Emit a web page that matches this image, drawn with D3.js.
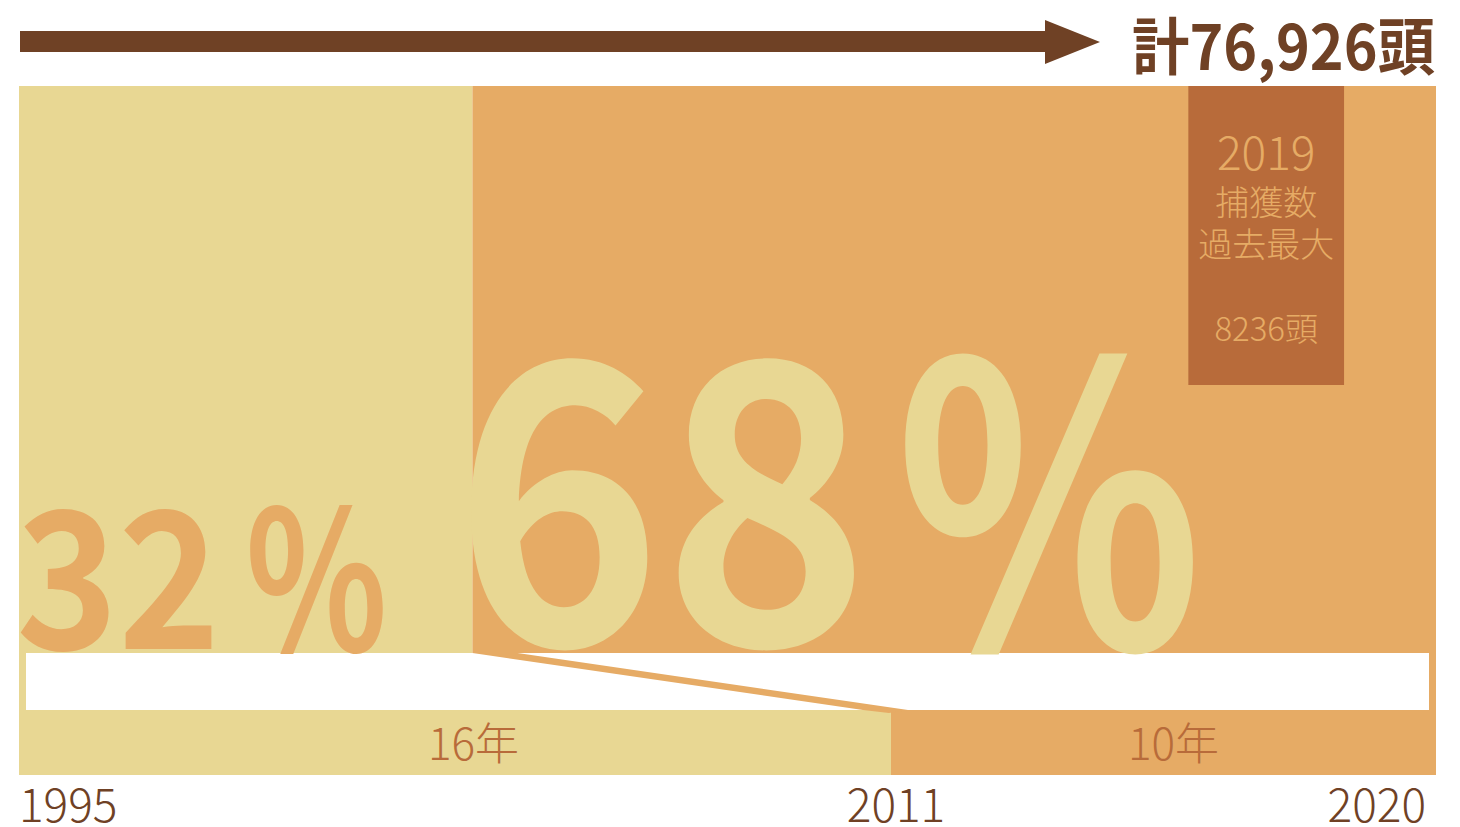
<!DOCTYPE html>
<html>
<head>
<meta charset="utf-8">
<script src="https://cdn.jsdelivr.net/npm/d3@7"></script>
<style>
  html, body { margin: 0; padding: 0; background: #ffffff; }
  svg { display: block; }
  text { font-family: "Noto Sans CJK JP", "Noto Sans", sans-serif; }
</style>
</head>
<body>
<svg id="chart" width="1460" height="827"></svg>
<script>
// ---- data ----
const totalCatch = 76926;                 // 1995–2020 total (頭)
const shareNumbers = ["32", "68"];
const shareValues = [32, 68];             // % of total before / after 2011
const periodLabels = ["16年", "10年"];
const periodStarts = [1995, 2011];
const periodEnds = [2011, 2021];
const tickYears = [1995, 2011, 2020];
const peakYear = 2019;
const peakCatch = 8236;
const catch2020 = 5100;                   // estimated
const peakLines = ["2019", "捕獲数", "過去最大", "", "8236頭"];

// ---- colours ----
const cYellow = "#E8D793";
const cOrange = "#E6AB65";
const cBox = "#B86B3A";
const cDark = "#6F4125";

const FONT = '"Noto Sans CJK JP", "Noto Sans", sans-serif';
const svg = d3.select("#chart");
const left = 19, right = 1436;
const panelTop = 86, panelBottom = 653, bandTop = 710, bandBottom = 775;
const inset = 7;

const xShare = d3.scaleLinear().domain([0, 100]).range([left, right]);
const xYear = d3.scaleLinear().domain([periodStarts[0], periodEnds[1]]).range([left, right]);

// helper: place text so its ink spans [inkLeft, inkRight] horizontally
const ctx = document.createElement("canvas").getContext("2d");
function fitText(str, size, weight, inkLeft, inkRight, baseline, fill) {
  ctx.font = `${weight} ${size}px ${FONT}`;
  const m = ctx.measureText(str);
  const l = -m.actualBoundingBoxLeft, r = m.actualBoundingBoxRight;
  const sx = (inkRight - inkLeft) / (r - l);
  const x0 = inkLeft - l * sx;
  svg.append("text")
    .attr("transform", `translate(${x0},${baseline}) scale(${sx},1)`)
    .attr("font-size", size).attr("font-weight", weight)
    .attr("fill", fill)
    .text(str);
}

// ---- arrow + title ----
svg.append("rect").attr("x", 20).attr("y", 31).attr("width", 1026).attr("height", 21).attr("fill", cDark);
svg.append("path").attr("d", "M1045,20 L1100,42 L1045,64 Z").attr("fill", cDark);
fitText("計" + d3.format(",")(totalCatch) + "頭", 62, 700, 1133, 1435, 70, cDark);

// ---- share panels ----
const cum = [0, shareValues[0], shareValues[0] + shareValues[1]];
const shareColors = [cYellow, cOrange];
svg.selectAll("rect.share").data(shareValues).join("rect")
  .attr("class", "share")
  .attr("x", (d, i) => xShare(cum[i]))
  .attr("y", panelTop)
  .attr("width", d => xShare(d) - xShare(0))
  .attr("height", bandTop - panelTop)
  .attr("fill", (d, i) => shareColors[i]);

// ---- period band ----
svg.selectAll("rect.period").data(periodStarts).join("rect")
  .attr("class", "period")
  .attr("x", d => xYear(d))
  .attr("y", bandTop)
  .attr("width", (d, i) => xYear(periodEnds[i]) - xYear(d))
  .attr("height", bandBottom - bandTop)
  .attr("fill", (d, i) => shareColors[i]);

// ---- white gap ----
svg.append("rect")
  .attr("x", left + inset).attr("y", panelBottom)
  .attr("width", right - left - 2 * inset).attr("height", bandTop - panelBottom)
  .attr("fill", "#ffffff");

// ---- connector ----
const xs0 = xShare(shareValues[0]);
const xy0 = xYear(periodStarts[1]);
svg.append("path")
  .attr("d", `M${xs0},${panelBottom} L${xs0 + 45},${panelBottom} L${xy0 + 17},${bandTop} L${xy0 - 2},${bandTop + 3} L${xy0 - 28},${bandTop} Z`)
  .attr("fill", cOrange);

// ---- peak box ----
const pct2019 = peakCatch / totalCatch * 100;
const pct2020 = catch2020 / totalCatch * 100;
const boxX0 = xShare(100 - pct2020 - pct2019) - 2;
const boxX1 = xShare(100 - pct2020) + 2;
svg.append("rect")
  .attr("x", boxX0).attr("y", panelTop)
  .attr("width", boxX1 - boxX0).attr("height", 299)
  .attr("fill", cBox);
const boxCx = (boxX0 + boxX1) / 2;
const peakY = [170, 215, 257, 0, 341];
const peakSize = [46, 34, 34, 0, 33];
peakLines.forEach((t, i) => {
  if (!t) return;
  svg.append("text")
    .attr("x", boxCx).attr("y", peakY[i])
    .attr("text-anchor", "middle")
    .attr("font-size", peakSize[i]).attr("font-weight", 300)
    .attr("fill", cOrange)
    .text(t);
});

// ---- big share labels ----
fitText(shareNumbers[0], 190, 700, xShare(0) + 1, 212, 649, cOrange);
fitText("%", 194, 700, 250, 383, 651, cOrange);
fitText(shareNumbers[1], 390, 700, xShare(shareValues[0]) - 2, 855, 645, cYellow);
fitText("%", 392, 700, 905, 1195, 649, cYellow);

// ---- period labels ----
const periodX = [xShare(shareValues[0]) + 1, (xYear(periodStarts[1]) + xYear(periodEnds[1])) / 2 + 10];
svg.selectAll("text.period").data(periodLabels).join("text")
  .attr("class", "period")
  .attr("x", (d, i) => periodX[i])
  .attr("y", 760)
  .attr("text-anchor", "middle")
  .attr("font-size", 44).attr("font-weight", 300)
  .attr("fill", cBox)
  .text(d => d);

// ---- year ticks ----
const anchors = ["start", "middle", "end"];
const tickOffsets = [0, 5, -10];
svg.selectAll("text.year").data(tickYears).join("text")
  .attr("class", "year")
  .attr("x", (d, i) => (i === 2 ? xYear(periodEnds[1]) : xYear(d)) + tickOffsets[i])
  .attr("y", 822)
  .attr("text-anchor", (d, i) => anchors[i])
  .attr("font-size", 46).attr("font-weight", 300)
  .attr("fill", cDark)
  .text(d => d);
</script>
</body>
</html>
